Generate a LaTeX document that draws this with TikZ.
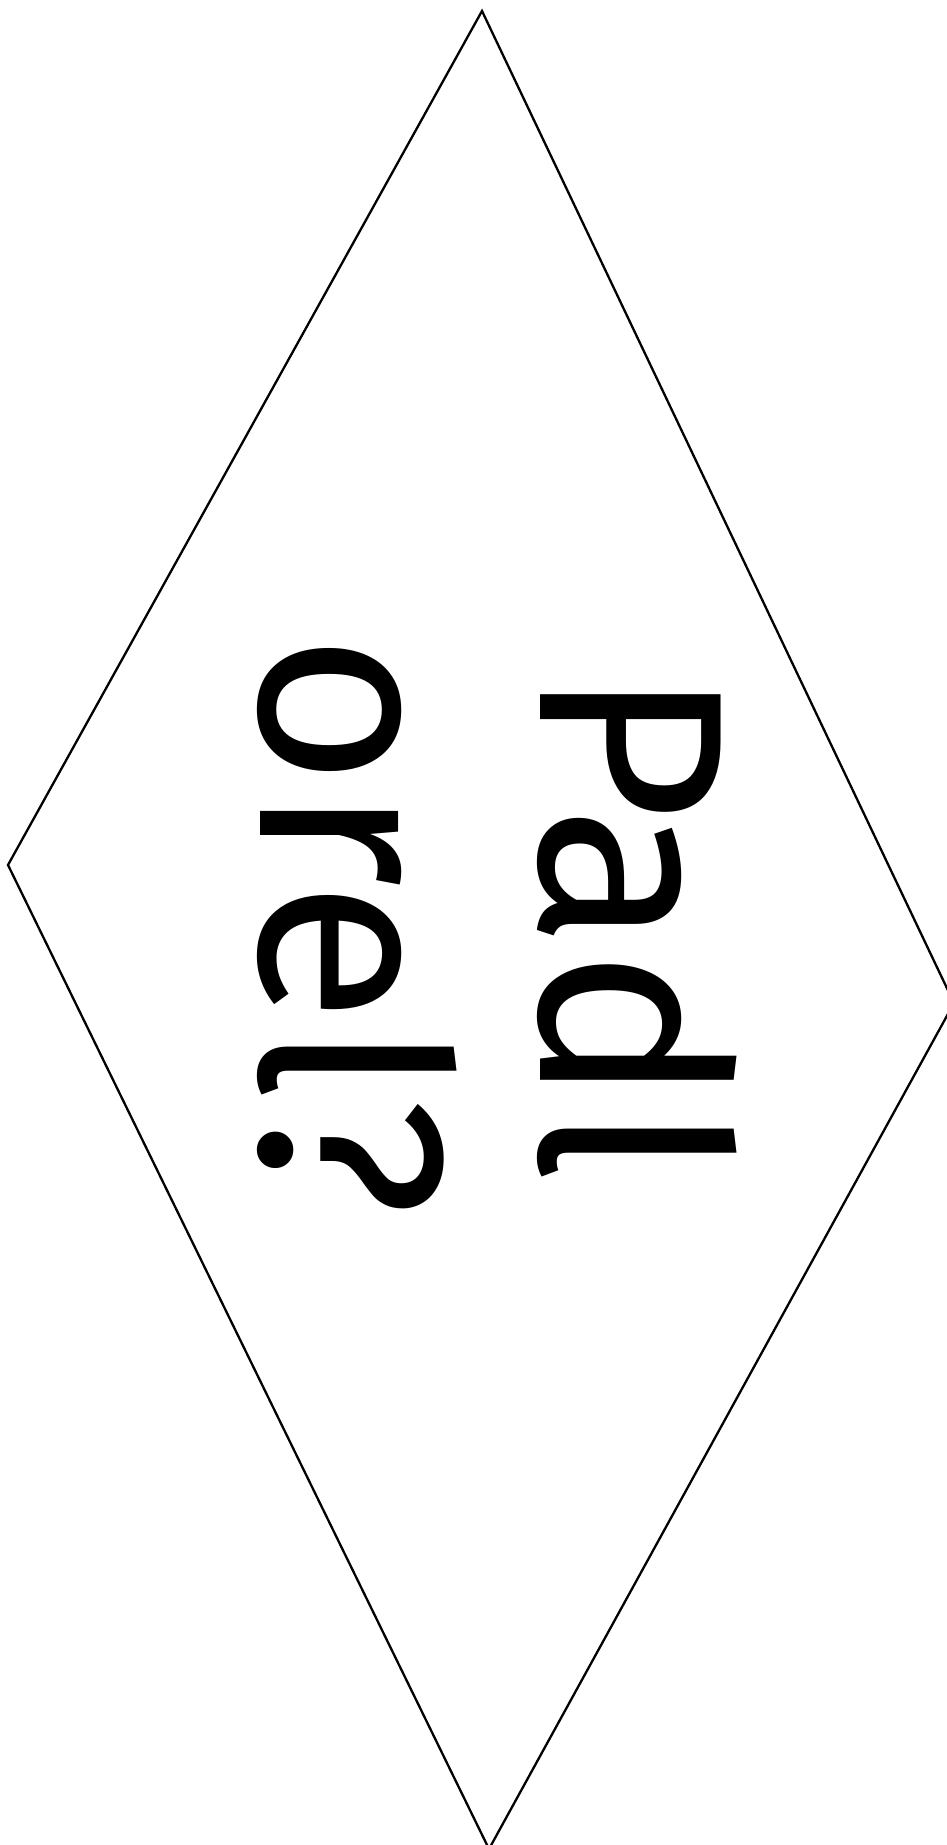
\documentclass[tikz,border=0pt]{standalone}
\usepackage{fontspec}
\setmainfont{Fira Sans}
\begin{document}
\begin{tikzpicture}[x=1pt,y=1pt,
  decision/.style={draw=black,line width=2.3pt,line join=miter},
  label/.style={font=\fontsize{262}{280}\selectfont,align=center,inner sep=0pt,rotate=-90}]
\useasboundingbox (0,0) rectangle (947,1845);
\coordinate (T) at (482,1834);
\coordinate (R) at (954,842);
\coordinate (B) at (489,-4);
\coordinate (L) at (8,980);
\draw[decision] (T) -- (R) -- (B) -- (L) -- cycle;
\node[label] (txt) at (497,920) {Padl\\orel?};
\end{tikzpicture}
\end{document}
